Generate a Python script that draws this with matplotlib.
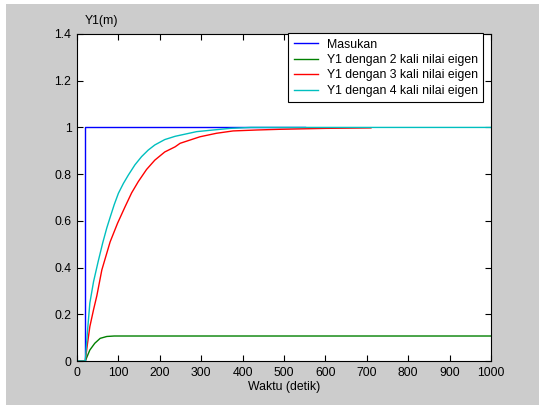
import matplotlib
matplotlib.use("Agg")
import matplotlib.pyplot as plt
from matplotlib.patches import Rectangle

plt.rcParams['font.family'] = ['Liberation Sans', 'DejaVu Sans']
plt.rcParams['font.size'] = 8.8

# data (time in detik, Y1 in m)
t_in = [0, 20, 20, 551]
y_in = [0, 0, 1, 1]

t_2 = [0, 20, 31, 43, 56, 72, 90, 1000]
y_2 = [0, 0, 0.047, 0.076, 0.097, 0.105, 0.107, 0.107]

t_3 = [0, 20, 25, 31, 40, 48, 60, 80, 98, 116, 132, 148, 168, 188, 212, 237, 249,
       297, 337, 377, 434, 490, 600, 710]
y_3 = [0, 0, 0.07, 0.147, 0.22, 0.28, 0.39, 0.51, 0.59, 0.66, 0.72, 0.768, 0.82,
       0.86, 0.895, 0.917, 0.932, 0.96, 0.975, 0.985, 0.989, 0.992, 0.996, 0.998]

t_4 = [0, 20, 25, 31, 40, 51, 62, 72, 80, 90, 100, 112, 124, 140, 156, 172, 188,
       212, 237, 289, 329, 370, 420, 1000]
y_4 = [0, 0, 0.12, 0.248, 0.34, 0.425, 0.505, 0.57, 0.615, 0.67, 0.718, 0.76, 0.796,
       0.84, 0.875, 0.903, 0.925, 0.948, 0.962, 0.982, 0.989, 0.996, 1.0, 1.0]

labels = ['Masukan', 'Y1 dengan 2 kali nilai eigen',
          'Y1 dengan 3 kali nilai eigen', 'Y1 dengan 4 kali nilai eigen']

fig = plt.figure(figsize=(5.39, 4.05), dpi=100, facecolor='white')
# gray window background with thin white strip at top/left
fig.patches.append(Rectangle((6 / 539, 0), 1, 1 - 4 / 405, transform=fig.transFigure,
                             facecolor='#cccccc', edgecolor='none', zorder=-1))

ax = fig.add_axes([77 / 539, 44 / 405, 414 / 539, 327 / 405])
ax.plot(t_in, y_in, color='#0000ff', lw=1.0, label=labels[0])
ax.plot(t_2, y_2, color='#008000', lw=1.0, label=labels[1])
ax.plot(t_3, y_3, color='#ff0000', lw=1.0, label=labels[2])
ax.plot(t_4, y_4, color='#00bfbf', lw=1.0, label=labels[3])

ax.set_xlim(0, 1000)
ax.set_ylim(0, 1.4)
ax.set_xticks(range(0, 1001, 100))
ax.set_yticks([0, 0.2, 0.4, 0.6, 0.8, 1, 1.2, 1.4])
ax.set_yticklabels(['0', '0.2', '0.4', '0.6', '0.8', '1', '1.2', '1.4'])
ax.tick_params(direction='in', length=4, width=0.8, top=True, right=True, pad=4)
for s in ax.spines.values():
    s.set_linewidth(0.8)
ax.set_xlabel('Waktu (detik)', labelpad=2)
fig.text(85 / 539, 1 - 21 / 405, 'Y1(m)', ha='left', va='center')

leg = ax.legend(loc='upper right', bbox_to_anchor=(0.981, 1.003), fancybox=False,
                framealpha=1, edgecolor='black', handlelength=2.0, handletextpad=0.7,
                labelspacing=0.28, borderpad=0.45, borderaxespad=0)
leg.get_frame().set_linewidth(0.8)

fig.savefig('out.png', dpi=100, facecolor=fig.get_facecolor())
